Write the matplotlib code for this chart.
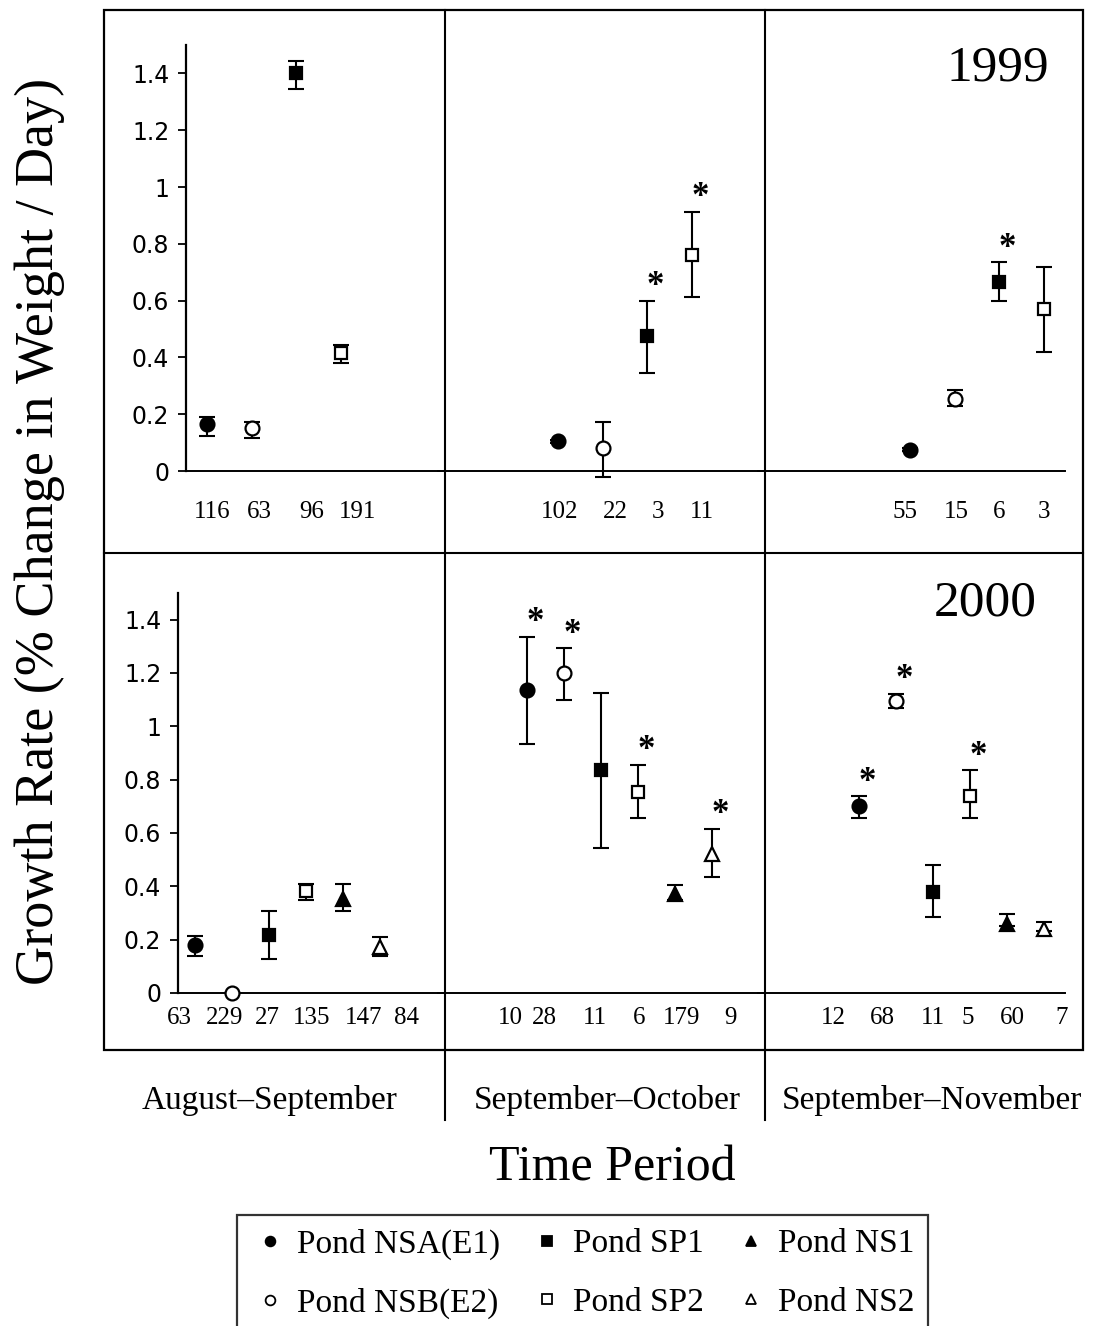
import matplotlib.pyplot as plt
from matplotlib.lines import Line2D
from matplotlib.patches import Rectangle
import matplotlib.transforms as mtransforms

# ponds shown in each year
ponds_1999 = ['Pond NSA(E1)', 'Pond NSB(E2)', 'Pond SP1', 'Pond SP2']
ponds_2000 = ['Pond NSA(E1)', 'Pond NSB(E2)', 'Pond SP1', 'Pond SP2', 'Pond NS1', 'Pond NS2']
periods = ['August\u2013September', 'September\u2013October', 'September\u2013November']

# 1999 growth rates (mean, lower / upper error bar), sample sizes, significance
aug_sep_99 = [0.164, 0.150, 1.400, 0.414]
aug_sep_99_lo = [0.125, 0.116, 1.345, 0.381]
aug_sep_99_hi = [0.189, 0.174, 1.443, 0.444]
aug_sep_99_n = [116, 63, 96, 191]
aug_sep_99_sig = [0, 0, 0, 0]

sep_oct_99 = [0.105, 0.080, 0.475, 0.760]
sep_oct_99_lo = [0.100, -0.020, 0.345, 0.612]
sep_oct_99_hi = [0.110, 0.172, 0.600, 0.912]
sep_oct_99_n = [102, 22, 3, 11]
sep_oct_99_sig = [0, 0, 1, 1]

sep_nov_99 = [0.075, 0.255, 0.665, 0.570]
sep_nov_99_lo = [0.070, 0.228, 0.600, 0.420]
sep_nov_99_hi = [0.080, 0.285, 0.735, 0.720]
sep_nov_99_n = [55, 15, 6, 3]
sep_nov_99_sig = [0, 0, 1, 0]

# 2000
aug_sep_00 = [0.180, 0.000, 0.218, 0.384, 0.354, 0.173]
aug_sep_00_lo = [0.138, 0.000, 0.126, 0.347, 0.306, 0.138]
aug_sep_00_hi = [0.215, 0.000, 0.309, 0.407, 0.407, 0.211]
aug_sep_00_n = [63, 229, 27, 135, 147, 84]
aug_sep_00_sig = [0, 0, 0, 0, 0, 0]

sep_oct_00 = [1.135, 1.200, 0.835, 0.755, 0.373, 0.522]
sep_oct_00_lo = [0.935, 1.100, 0.545, 0.655, 0.350, 0.435]
sep_oct_00_hi = [1.335, 1.292, 1.125, 0.855, 0.405, 0.615]
sep_oct_00_n = [10, 28, 11, 6, 179, 9]
sep_oct_00_sig = [1, 1, 0, 1, 0, 1]

sep_nov_00 = [0.700, 1.095, 0.380, 0.740, 0.260, 0.240]
sep_nov_00_lo = [0.655, 1.070, 0.285, 0.655, 0.250, 0.232]
sep_nov_00_hi = [0.738, 1.122, 0.480, 0.835, 0.295, 0.265]
sep_nov_00_n = [12, 68, 11, 5, 60, 7]
sep_nov_00_sig = [1, 1, 0, 1, 0, 0]

styles = {
    'Pond NSA(E1)': dict(marker='o', mfc='black', ms=10),
    'Pond NSB(E2)': dict(marker='o', mfc='white', ms=10),
    'Pond SP1': dict(marker='s', mfc='black', ms=9),
    'Pond SP2': dict(marker='s', mfc='white', ms=9),
    'Pond NS1': dict(marker='^', mfc='black', ms=10.5),
    'Pond NS2': dict(marker='^', mfc='white', ms=10.5),
}

SERIF = 'Liberation Serif'
W, H = 1094, 1326
fig = plt.figure(figsize=(W / 100, H / 100), dpi=100)


def rect(x0, x1, y0, y1):
    # pixel box -> figure fraction
    return [x0 / W, 1 - y0 / H, (x1 - x0) / W, (y0 - y1) / H]


rows = [
    dict(ponds=ponds_1999, y0=471, y1=45, lab_y=512, year='1999', year_xy=(998, 68),
         panels=[
             dict(x=(186, 445), xlim=(0.529, 6.336), m=aug_sep_99, lo=aug_sep_99_lo, hi=aug_sep_99_hi,
                  n=aug_sep_99_n, sig=aug_sep_99_sig, nx=[1.11, 2.18, 3.34, 4.38]),
             dict(x=(445, 765), xlim=(-1.534, 5.641), m=sep_oct_99, lo=sep_oct_99_lo, hi=sep_oct_99_hi,
                  n=sep_oct_99_n, sig=sep_oct_99_sig, nx=[1.04, 2.29, 3.25, 4.22]),
             dict(x=(765, 1065), xlim=(-2.251, 4.475), m=sep_nov_99, lo=sep_nov_99_lo, hi=sep_nov_99_hi,
                  n=sep_nov_99_n, sig=sep_nov_99_sig, nx=[0.89, 2.04, 3.0, 4.0]),
         ]),
    dict(ponds=ponds_2000, y0=993, y1=593, lab_y=1018, year='2000', year_xy=(985, 603),
         panels=[
             dict(x=(178, 445), xlim=(0.541, 7.757), m=aug_sep_00, lo=aug_sep_00_lo, hi=aug_sep_00_hi,
                  n=aug_sep_00_n, sig=aug_sep_00_sig, nx=[0.59, 1.81, 2.95, 4.14, 5.57, 6.73]),
             dict(x=(445, 765), xlim=(-1.216, 7.432), m=sep_oct_00, lo=sep_oct_00_lo, hi=sep_oct_00_hi,
                  n=sep_oct_00_n, sig=sep_oct_00_sig, nx=[0.54, 1.46, 2.84, 4.03, 5.19, 6.51]),
             dict(x=(765, 1065), xlim=(-1.541, 6.568), m=sep_nov_00, lo=sep_nov_00_lo, hi=sep_nov_00_hi,
                  n=sep_nov_00_n, sig=sep_nov_00_sig, nx=[0.30, 1.62, 3.0, 3.95, 5.14, 6.49]),
         ]),
]

for row in rows:
    for j, p in enumerate(row['panels']):
        ax = fig.add_axes(rect(p['x'][0], p['x'][1], row['y0'], row['y1']))
        ax.set_xlim(*p['xlim'])
        ax.set_ylim(0, 1.5)
        ax.patch.set_alpha(0)
        for s in ['top', 'right']:
            ax.spines[s].set_visible(False)
        ax.spines['bottom'].set_linewidth(1.4)
        ax.set_xticks([])
        if j == 0:
            ax.spines['left'].set_linewidth(1.6)
            ax.set_yticks([0, 0.2, 0.4, 0.6, 0.8, 1.0, 1.2, 1.4])
            ax.set_yticklabels(['0', '0.2', '0.4', '0.6', '0.8', '1', '1.2', '1.4'])
            ax.tick_params(axis='y', length=6, width=1.3, labelsize=17, pad=6)
            for t in ax.get_yticklabels():
                t.set_family('DejaVu Sans')
        else:
            ax.spines['left'].set_visible(False)
            ax.set_yticks([0])
            ax.set_yticklabels([])
            ax.tick_params(axis='y', length=6, width=1.3)
        for k, pond in enumerate(row['ponds']):
            x = k + 1
            m, lo, hi = p['m'][k], p['lo'][k], p['hi'][k]
            ax.errorbar([x], [m], yerr=[[m - lo], [hi - m]], fmt='none', ecolor='black',
                        elinewidth=1.5, capsize=5.5, capthick=1.5, clip_on=False, zorder=2)
            ax.plot([x], [m], linestyle='none', mec='black', mew=1.6, clip_on=False, zorder=3,
                    **styles[pond])
            if p['sig'][k]:
                ax.annotate('*', (x, hi), xytext=(6, 4), textcoords='offset points',
                            ha='center', va='baseline', fontsize=25, fontweight='bold',
                            family=SERIF)
        tr = mtransforms.blended_transform_factory(ax.transData, fig.transFigure)
        for xn, n in zip(p['nx'], p['n']):
            ax.text(xn, 1 - row['lab_y'] / H, str(n), transform=tr, ha='center', va='center',
                    fontsize=18, family=SERIF)
    fig.text(row['year_xy'][0] / W, 1 - row['year_xy'][1] / H, row['year'], ha='center',
             va='center', fontsize=37, family=SERIF)

# panel frame and dividers
fig.add_artist(Rectangle((104 / W, 1 - 1050 / H), (1083 - 104) / W, (1050 - 10) / H,
                         transform=fig.transFigure, fill=False, lw=1.6, ec='black'))
fig.add_artist(Line2D([104 / W, 1083 / W], [1 - 553 / H] * 2, transform=fig.transFigure,
                      lw=1.5, color='black'))
for xd in [445, 765]:
    fig.add_artist(Line2D([xd / W] * 2, [1 - 10 / H, 1 - 1120 / H], transform=fig.transFigure,
                          lw=1.5, color='black'))

for xc, lab in zip([270, 607, 932], periods):
    fig.text(xc / W, 1 - 1100 / H, lab, ha='center', va='center', fontsize=24, family=SERIF)

fig.text(612 / W, 1 - 1168 / H, 'Time Period', ha='center', va='center', fontsize=36, family=SERIF)
fig.text(40 / W, 1 - 531 / H, 'Growth Rate (% Change in Weight / Day)', rotation=90,
         ha='center', va='center', fontsize=39, family=SERIF)

# legend
order = ['Pond NSA(E1)', 'Pond NSB(E2)', 'Pond SP1', 'Pond SP2', 'Pond NS1', 'Pond NS2']
handles = []
for name in order:
    st = dict(styles[name])
    st['ms'] = 7
    handles.append(Line2D([], [], linestyle='none', mec='black', mew=1.3, **st))
leg = fig.legend(handles, order, ncol=3, loc='upper left',
                 bbox_to_anchor=(237 / W, 1 - 1215 / H),
                 prop={'family': SERIF, 'size': 24}, frameon=True, fancybox=False,
                 edgecolor='black', handlelength=1.2, handletextpad=0.2, columnspacing=0.8,
                 labelspacing=0.85, borderpad=0.4, borderaxespad=0)
leg.get_frame().set_linewidth(1.6)

fig.savefig('out.png', dpi=100)
